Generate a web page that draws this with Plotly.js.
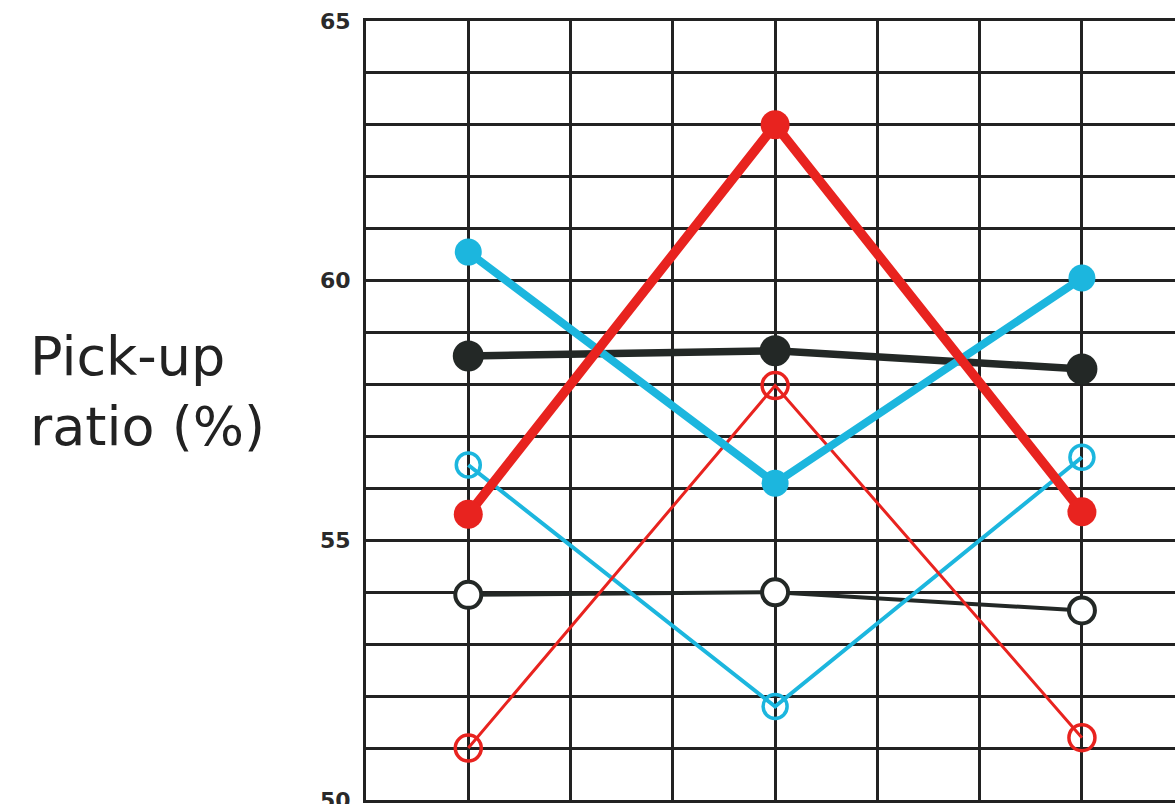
<!DOCTYPE html>
<html>
<head>
<meta charset="utf-8">
<script src="https://cdn.plot.ly/plotly-3.0.1.min.js"></script>
<style>html,body{margin:0;padding:0;background:#fff;}#chart{width:1175px;height:804px;}</style>
</head>
<body>
<div id="chart"></div>
<script>
// positions along the (unlabelled) horizontal axis
const xPos = [1, 4, 7];
// series values (pick-up ratio, %)
const redFilled   = [55.5, 63.0, 55.55];
const redOpen     = [51.0, 57.98, 51.2];
const cyanFilled  = [60.55, 56.1, 60.05];
const cyanOpen    = [56.45, 51.8, 56.6];
const blackFilled = [58.55, 58.65, 58.3];
const blackOpen   = [53.95, 54.0, 53.65];
const yTickVals = [50, 55, 60, 65];
const yTickText = ['50', '55', '60', '65'];

const RED = '#e8231f', CYAN = '#1cb6de', BLACK = '#232826';

function tr(y, color, lw, msym, msize, mcolor, mlw) {
  return {
    x: xPos, y: y, type: 'scatter', mode: 'lines+markers', cliponaxis: false,
    line: {color: color, width: lw},
    marker: {symbol: msym, size: msize, color: mcolor, line: {color: color, width: mlw}},
    hoverinfo: 'skip', showlegend: false
  };
}

const data = [
  tr(blackOpen, BLACK, 4, 'circle', 26, '#ffffff', 4),
  tr(cyanOpen, CYAN, 4, 'circle-open', 24, CYAN, 3.5),
  tr(redOpen, RED, 3, 'circle-open', 26, RED, 3.5),
  tr(blackFilled, BLACK, 7.5, 'circle', 31, BLACK, 0),
  tr(cyanFilled, CYAN, 8, 'circle', 27, CYAN, 0),
  tr(redFilled, RED, 9.5, 'circle', 29, RED, 0)
];

const layout = {
  width: 1175, height: 804,
  margin: {l: 366, r: 0, t: 21, b: 4},
  paper_bgcolor: '#ffffff', plot_bgcolor: '#ffffff',
  xaxis: {
    range: [0, 7.91], dtick: 1, tick0: 0, showticklabels: false, ticks: '',
    showgrid: true, gridcolor: '#222222', gridwidth: 3, zeroline: false,
    showline: true, linecolor: '#222222', linewidth: 3, mirror: true
  },
  yaxis: {
    range: [50, 65], tickvals: yTickVals, ticktext: yTickText, ticks: '',
    showgrid: true, gridcolor: '#222222', gridwidth: 3, zeroline: false,
    showline: true, linecolor: '#222222', linewidth: 3,
    minor: {dtick: 1, tick0: 50, showgrid: true, gridcolor: '#222222', gridwidth: 3, ticks: ''},
    ticklabelstandoff: 8, ticklabeloverflow: 'allow',
    tickfont: {family: 'DejaVu Sans', size: 22, color: '#2a2a2a', weight: 'bold'}
  },
  annotations: [{
    text: 'Pick-up<br>ratio (%)', xref: 'paper', yref: 'paper',
    x: -0.418, y: 0.525, xanchor: 'left', yanchor: 'middle', align: 'left', showarrow: false,
    font: {family: 'DejaVu Sans', size: 54, color: '#222222'}
  }]
};

Plotly.newPlot('chart', data, layout, {displayModeBar: false, staticPlot: true});
</script>
</body>
</html>
